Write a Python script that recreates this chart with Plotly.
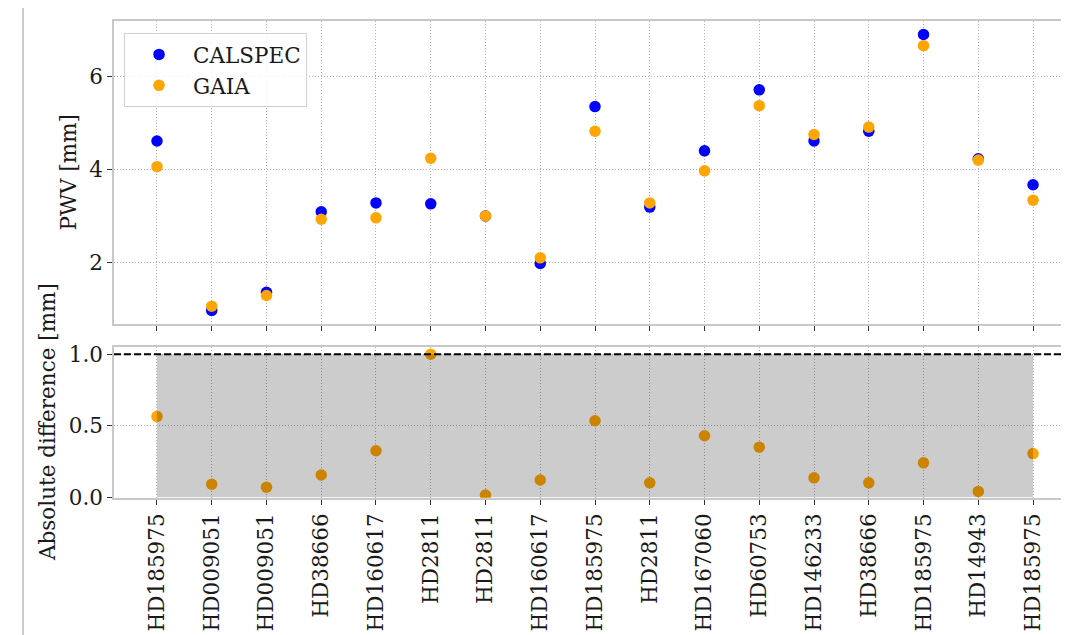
import plotly.graph_objects as go
from plotly.subplots import make_subplots

stars = ["HD185975", "HD009051", "HD009051", "HD38666", "HD160617", "HD2811",
         "HD2811", "HD160617", "HD185975", "HD2811", "HD167060", "HD60753",
         "HD146233", "HD38666", "HD185975", "HD14943", "HD185975"]
pwv_calspec = [4.62, 0.98, 1.37, 3.10, 3.29, 3.27, 3.01, 1.99, 5.36, 3.20,
               4.41, 5.72, 4.62, 4.83, 6.91, 4.24, 3.68]
pwv_gaia = [4.07, 1.07, 1.30, 2.94, 2.97, 4.25, 3.01, 2.11, 4.83, 3.29,
            3.98, 5.38, 4.76, 4.92, 6.67, 4.21, 3.35]
abs_diff = [0.565, 0.09, 0.07, 0.155, 0.325, 1.0, 0.015, 0.12, 0.535, 0.10,
            0.43, 0.35, 0.135, 0.10, 0.24, 0.04, 0.305]
threshold = 1.0

idx = list(range(len(stars)))
FONT = "DejaVu Serif"
FS = 21.5

fig = make_subplots(rows=2, cols=1, shared_xaxes=False, vertical_spacing=0.0)

fig.add_trace(go.Scatter(x=idx, y=pwv_calspec, mode="markers", name="CALSPEC",
                         marker=dict(color="#0000ff", size=11.5)), row=1, col=1)
fig.add_trace(go.Scatter(x=idx, y=pwv_gaia, mode="markers", name="GAIA",
                         marker=dict(color="#ffa500", size=11.5)), row=1, col=1)

fig.add_trace(go.Scatter(x=idx, y=abs_diff, mode="markers", showlegend=False,
                         marker=dict(color="#ffa500", size=11.5)), row=2, col=1)
fig.add_trace(go.Scatter(x=idx, y=[threshold] * len(idx), mode="lines", fill="tozeroy",
                         fillcolor="rgba(0,0,0,0.2)", line=dict(width=0),
                         showlegend=False, hoverinfo="skip"), row=2, col=1)

xr = [-0.785, 16.657]
GRID = dict(showgrid=True, gridcolor="#b0b0b0", gridwidth=0.8, griddash="1px,2px")
common_x = dict(range=xr, tickvals=idx, ticktext=stars, **GRID,
                showline=True, linecolor="#c8c8c8", linewidth=1.5, mirror=True,
                ticks="outside", ticklen=5, tickcolor="#333333", tickwidth=1,
                zeroline=False)
common_y = dict(**GRID,
                showline=True, linecolor="#c8c8c8", linewidth=1.5, mirror=False,
                ticks="outside", ticklen=5, tickcolor="#333333", tickwidth=1,
                zeroline=False)

fig.update_xaxes(**common_x, showticklabels=False, row=1, col=1)
fig.update_xaxes(**common_x, showticklabels=True, tickangle=-90, row=2, col=1)
fig.update_yaxes(**common_y, range=[0.688, 7.20], tickvals=[2, 4, 6], row=1, col=1)
fig.update_yaxes(**common_y, range=[-0.006, 1.053], tickvals=[0, 0.5, 1.0],
                 tickformat=".1f", row=2, col=1)

W, H = 1061, 627
L, T, B = 106, 13, 137
PW, PH = W - L, H - T - B

fig.update_layout(
    width=W, height=H,
    margin=dict(l=L, r=0, t=T, b=B),
    paper_bgcolor="white", plot_bgcolor="white",
    font=dict(family=FONT, size=FS, color="#1a1a1a"),
    yaxis=dict(domain=[0.3648, 1.0]),
    yaxis2=dict(domain=[0.0, 0.3172]),
    legend=dict(x=0.0105, y=0.975, xanchor="left", yanchor="top",
                bgcolor="rgba(255,255,255,0.85)", bordercolor="#d0d0d0",
                borderwidth=1, font=dict(family=FONT, size=FS, color="#1a1a1a"),
                itemwidth=58, tracegroupgap=0),
    showlegend=True,
)

# dashed threshold line across the lower axes
fig.add_shape(type="line", xref="x2 domain", yref="y2", x0=0, x1=1,
              y0=threshold, y1=threshold, line=dict(color="black", width=1.8, dash="7px,3px"))

# page border line on the left
fig.add_shape(type="line", xref="paper", yref="paper", x0=(15 - L) / PW, x1=(15 - L) / PW,
              y0=-0.29, y1=1.03, line=dict(color="#bbbbbb", width=1.5))

fig.add_annotation(text="PWV [mm]", xref="paper", yref="paper",
                   x=(60 - L) / PW, y=(H - 164.5 - B) / PH,
                   textangle=-90, showarrow=False, xanchor="center", yanchor="middle",
                   font=dict(family=FONT, size=FS, color="#1a1a1a"))
fig.add_annotation(text="Absolute difference [mm]", xref="paper", yref="paper",
                   x=(39 - L) / PW, y=(H - 414 - B) / PH,
                   textangle=-90, showarrow=False, xanchor="center", yanchor="middle",
                   font=dict(family=FONT, size=FS, color="#1a1a1a"))

fig.write_html("out.html")
